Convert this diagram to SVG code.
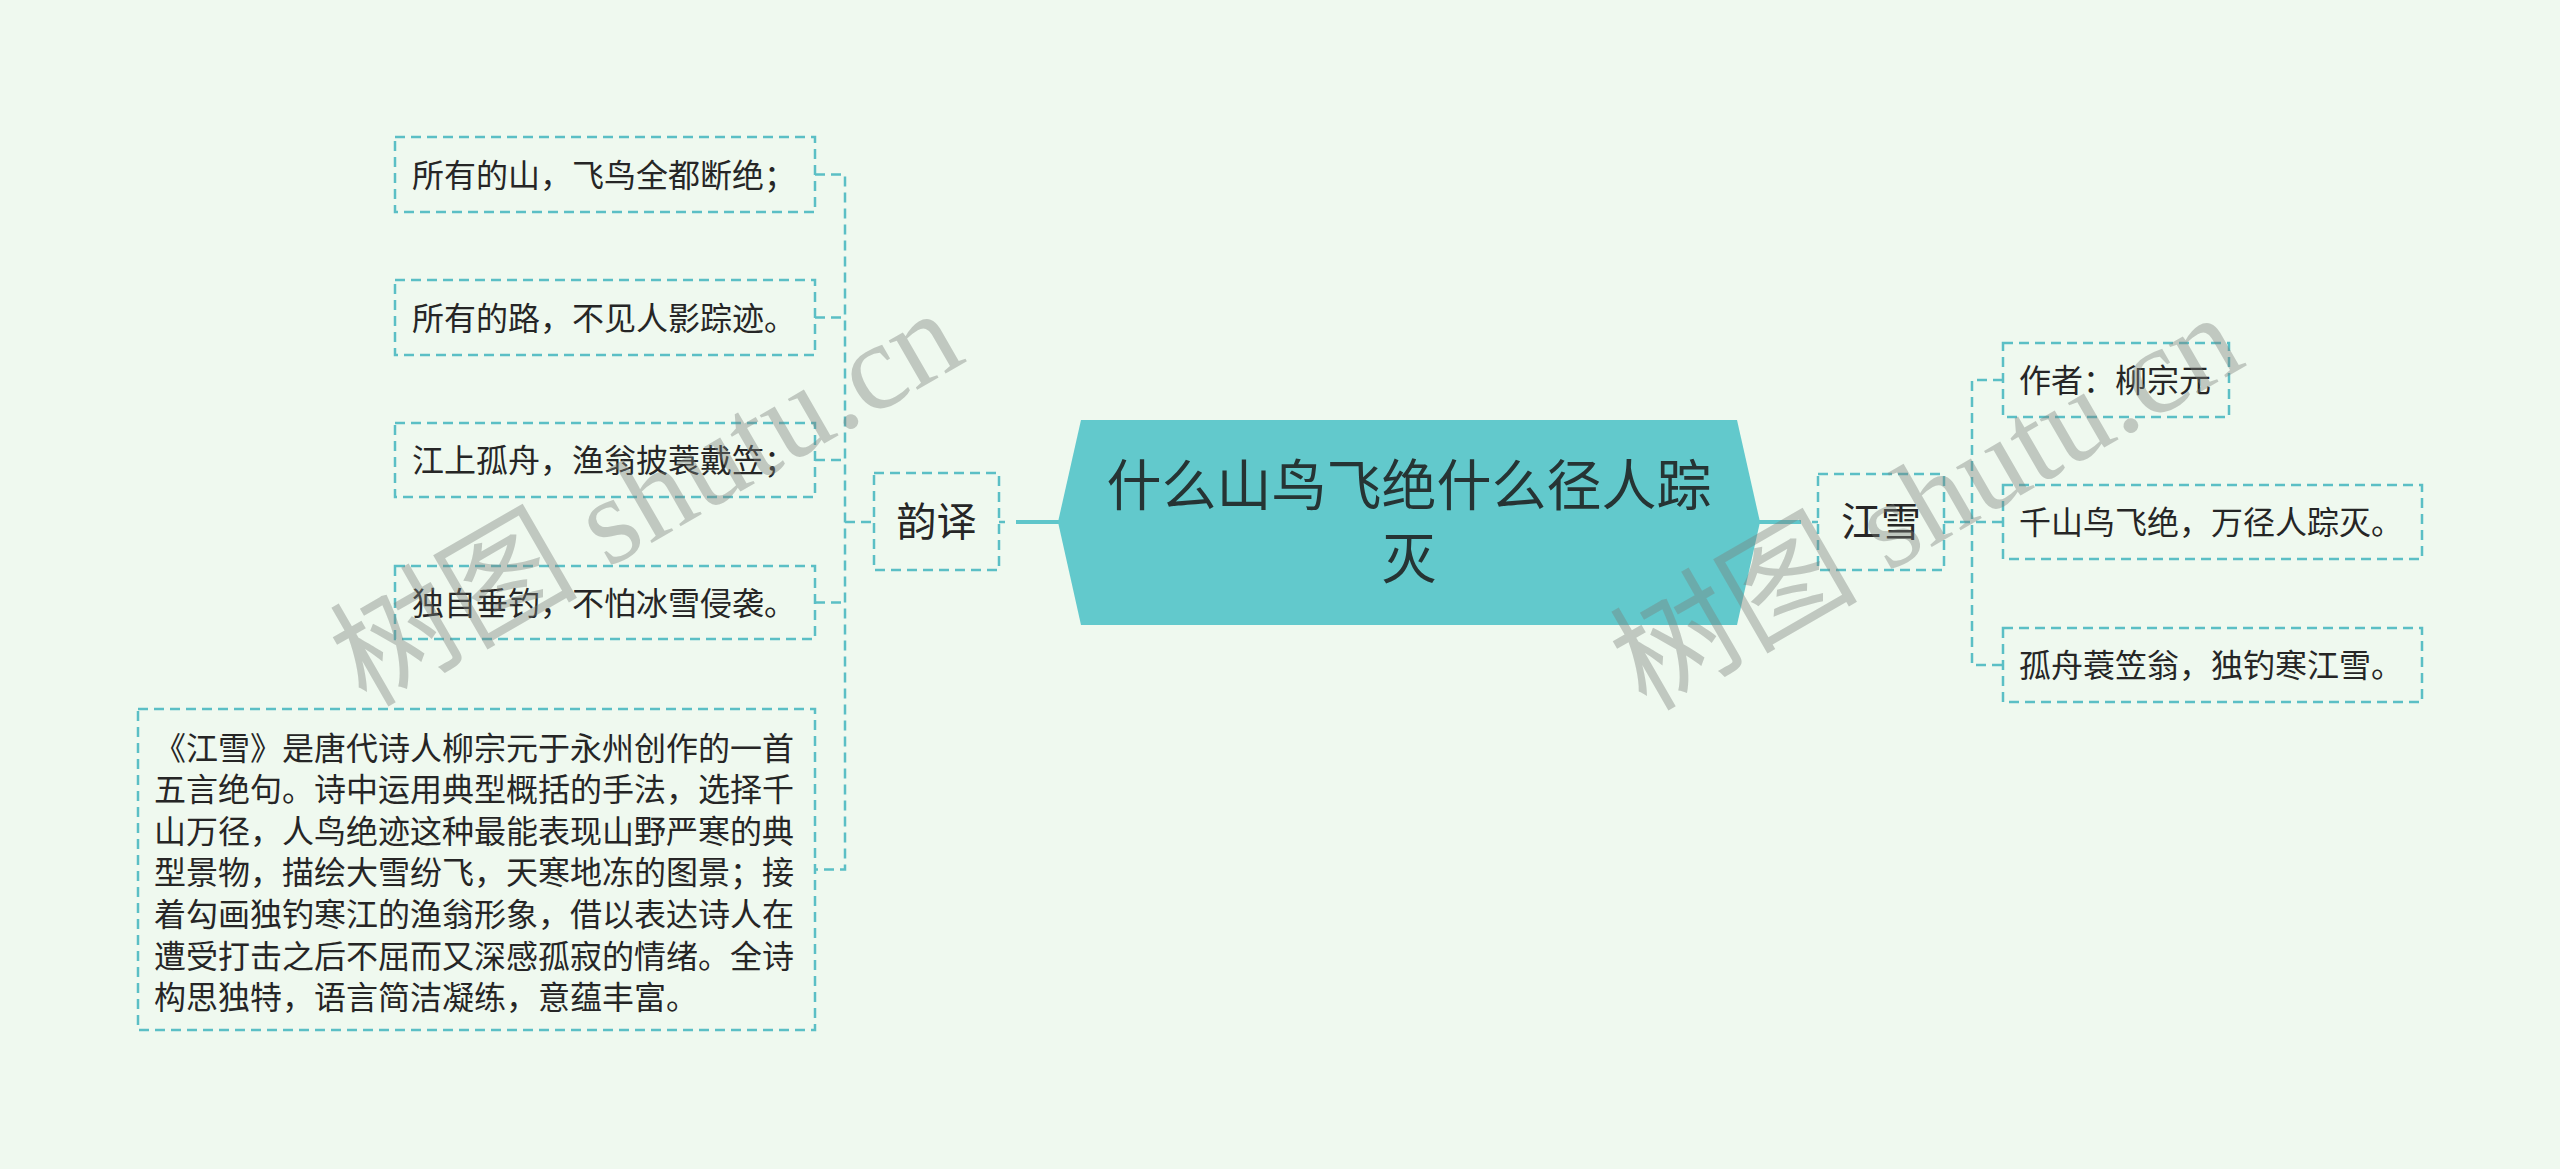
<svg xmlns="http://www.w3.org/2000/svg" width="2560" height="1169" viewBox="0 0 2560 1169">
<style>
.bg{fill:#eff9ef}
.box{fill:none;stroke:#5bbfc5;stroke-width:2.5;stroke-dasharray:10 6}
.link{fill:none;stroke:#5bbfc5;stroke-width:2.5;stroke-dasharray:10 6}
.solid{fill:none;stroke:#5fc6ca;stroke-width:4}
.t{font-family:"Noto Sans CJK SC","Noto Sans",sans-serif;font-size:32px;fill:#262626}
.mid{font-family:"Noto Sans CJK SC","Noto Sans",sans-serif;font-size:40px;fill:#262626;text-anchor:middle}
.root{font-family:"Noto Sans CJK SC","Noto Sans",sans-serif;font-size:55px;fill:#263434;text-anchor:middle}
.wm{font-family:"Liberation Serif","Noto Sans CJK SC",serif;font-size:124px;fill:#7a7f7a;fill-opacity:0.4}
</style>
<rect class="bg" x="0" y="0" width="2560" height="1169"/>

<g id="connectors">
  <path class="link" d="M815 174.5 H845 V869.5 H815"/>
  <path class="link" d="M815 317.5 H845"/>
  <path class="link" d="M815 460 H845"/>
  <path class="link" d="M815 602.5 H845"/>
  <path class="link" d="M845 522 H874"/>
  <path class="link" d="M2003 380 H1972 V665 H2003"/>
  <path class="link" d="M1944 522 H2003"/>
  <path class="solid" d="M1016 522 H1060"/>
  <path class="solid" d="M1758 522 H1801"/>
  <path fill="none" stroke="#5bbfc5" stroke-width="2.5" d="M999 522 H1005 M1812 522 H1818"/>
</g>

<g id="root">
  <polygon points="1058,522 1081,420 1737,420 1760,522 1737,625 1081,625" fill="#62c9cc"/>
  <text class="root" x="1409" y="505">什么山鸟飞绝什么径人踪</text>
  <text class="root" x="1409" y="578">灭</text>
</g>

<g id="yunyi">
  <rect class="box" x="874" y="473" width="125" height="97"/>
  <text class="mid" x="936.5" y="536">韵译</text>
</g>

<g id="l1">
  <rect class="box" x="395" y="137" width="420" height="75"/>
  <text class="t" x="412" y="186.5">所有的山，飞鸟全都断绝；</text>
</g>
<g id="l2">
  <rect class="box" x="395" y="280" width="420" height="75"/>
  <text class="t" x="412" y="329.5">所有的路，不见人影踪迹。</text>
</g>
<g id="l3">
  <rect class="box" x="395" y="423" width="420" height="74"/>
  <text class="t" x="412" y="472">江上孤舟，渔翁披蓑戴笠；</text>
</g>
<g id="l4">
  <rect class="box" x="395" y="566" width="420" height="73"/>
  <text class="t" x="412" y="614.5">独自垂钓，不怕冰雪侵袭。</text>
</g>
<g id="l5">
  <rect class="box" x="138" y="709" width="677" height="321"/>
  <text class="t" x="154" y="759.5">《江雪》是唐代诗人柳宗元于永州创作的一首</text>
  <text class="t" x="154" y="801.1">五言绝句。诗中运用典型概括的手法，选择千</text>
  <text class="t" x="154" y="842.7">山万径，人鸟绝迹这种最能表现山野严寒的典</text>
  <text class="t" x="154" y="884.3">型景物，描绘大雪纷飞，天寒地冻的图景；接</text>
  <text class="t" x="154" y="925.9">着勾画独钓寒江的渔翁形象，借以表达诗人在</text>
  <text class="t" x="154" y="967.5">遭受打击之后不屈而又深感孤寂的情绪。全诗</text>
  <text class="t" x="154" y="1009.1">构思独特，语言简洁凝练，意蕴丰富。</text>
</g>

<g id="jiangxue">
  <rect class="box" x="1818" y="474" width="126" height="96"/>
  <text class="mid" x="1881" y="536">江雪</text>
</g>
<g id="r1">
  <rect class="box" x="2003" y="343" width="226" height="74"/>
  <text class="t" x="2019" y="392">作者：柳宗元</text>
</g>
<g id="r2">
  <rect class="box" x="2003" y="485" width="419" height="74"/>
  <text class="t" x="2019" y="534">千山鸟飞绝，万径人踪灭。</text>
</g>
<g id="r3">
  <rect class="box" x="2003" y="628" width="419" height="74"/>
  <text class="t" x="2019" y="677">孤舟蓑笠翁，独钓寒江雪。</text>
</g>

<g id="watermark">
  <text class="wm" x="366" y="708" transform="rotate(-30 366 708)">树图 shutu.cn</text>
  <text class="wm" x="1646" y="712" transform="rotate(-30 1646 712)">树图 shutu.cn</text>
</g>
</svg>
